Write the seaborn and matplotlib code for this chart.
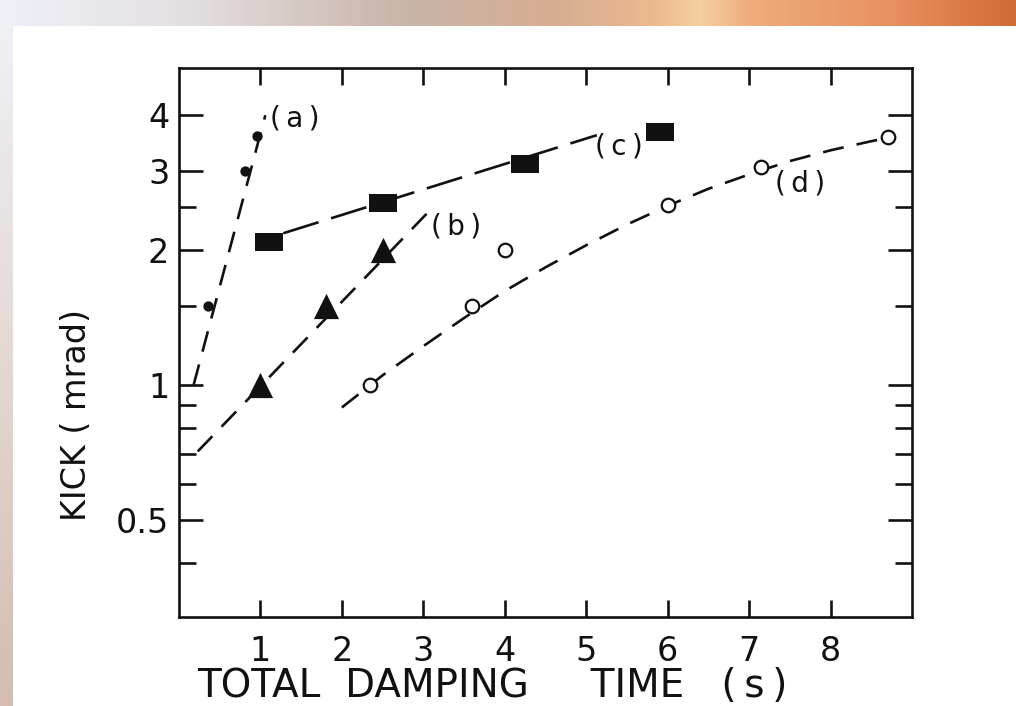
import numpy as np
import matplotlib
matplotlib.use("Agg")
import matplotlib.pyplot as plt
from matplotlib.colors import LinearSegmentedColormap
from matplotlib.ticker import FixedLocator, NullFormatter, FixedFormatter
import seaborn as sns

# Measured kicks for each damping configuration
a_time = [0.36, 0.81, 0.96]
a_kick = [1.5, 3.0, 3.6]
b_time = [1.0, 1.8, 2.5]
b_kick = [1.0, 1.5, 2.0]
c_time = [1.1, 2.5, 4.25, 5.9]
c_kick = [2.08, 2.55, 3.12, 3.67]
d_time = [2.35, 3.6, 4.0, 6.0, 7.15, 8.7]
d_kick = [1.0, 1.5, 2.0, 2.52, 3.07, 3.58]

# Dashed trend curves
a_fit_time = [0.18, 1.06]
a_fit_kick = [1.0, 4.0]
b_fit_time = [0.23, 3.05]
b_fit_kick = [0.71, 2.42]
c_fit_time = [1.28, 5.13]
c_fit_kick = [2.18, 3.61]
d_fit_time = [2.0, 2.5, 3.0, 3.5, 4.0, 4.5, 5.0, 5.5, 6.0, 6.5, 7.0, 7.5, 8.0, 8.5, 8.7]
d_fit_kick = [0.89, 1.05, 1.22, 1.41, 1.62, 1.83, 2.05, 2.28, 2.51, 2.74, 2.95, 3.16,
              3.34, 3.50, 3.56]

x_ticks = [1, 2, 3, 4, 5, 6, 7, 8]
y_major = [0.5, 1, 2, 3, 4]
y_major_labels = ["0.5", "1", "2", "3", "4"]
y_minor = [0.4, 0.6, 0.7, 0.8, 0.9, 1.5, 2.5]

sns.set_style("ticks")
plt.rcParams["font.family"] = ["DejaVu Sans"]

W, H = 1016, 706
fig = plt.figure(figsize=(W / 100, H / 100), dpi=100)
fig.patch.set_facecolor("white")

# Decorative slide border: gradient bar across the top and down the left side
top_cmap = LinearSegmentedColormap.from_list("top", [
    (0.0, "#eef0f8"), (0.18, "#e4e0e2"), (0.40, "#c9b4a8"), (0.55, "#d8ae92"),
    (0.64, "#ecb88e"), (0.69, "#f6cfa2"), (0.74, "#eeac7c"), (0.88, "#e8905e"),
    (1.0, "#d06c36")])
left_cmap = LinearSegmentedColormap.from_list("left", [
    (0.0, "#eef0f6"), (0.45, "#e6dad6"), (1.0, "#d4bcb0")])
bar_top = fig.add_axes([0, 1 - 26 / H, 1, 26 / H])
bar_top.imshow(np.linspace(0, 1, 256)[None, :], aspect="auto", cmap=top_cmap)
bar_top.axis("off")
bar_left = fig.add_axes([0, 0, 13 / W, 1 - 26 / H])
bar_left.imshow(np.linspace(0, 1, 256)[:, None], aspect="auto", cmap=left_cmap)
bar_left.axis("off")

ax = fig.add_axes([179 / W, 1 - 617 / H, (912 - 179) / W, (617 - 68) / H])
ax.set_facecolor("white")

ink = "#111111"
lw = 1.9

def trend(xs, ys, dashes):
    sns.lineplot(x=xs, y=ys, ax=ax, color=ink, linewidth=lw, sort=False,
                 estimator=None, dashes=False, legend=False).lines[-1].set_dashes(dashes)

trend(a_fit_time, a_fit_kick, (8, 5))
trend(b_fit_time, b_fit_kick, (8, 5))
trend(c_fit_time, c_fit_kick, (14, 5))
trend(d_fit_time, d_fit_kick, (8, 5))

rect = [(-1.4, -0.95), (1.4, -0.95), (1.4, 0.95), (-1.4, 0.95), (-1.4, -0.95)]
sns.scatterplot(x=a_time, y=a_kick, ax=ax, marker="o", s=55, color=ink,
                edgecolor=ink, linewidth=0, zorder=5, legend=False)
sns.scatterplot(x=b_time, y=b_kick, ax=ax, marker="^", s=330, color=ink,
                edgecolor=ink, linewidth=0, zorder=5, legend=False)
sns.scatterplot(x=c_time, y=c_kick, ax=ax, marker=rect, s=400, color=ink,
                edgecolor=ink, linewidth=0, zorder=5, legend=False)
sns.scatterplot(x=d_time, y=d_kick, ax=ax, marker="o", s=95, facecolor="white",
                edgecolor=ink, linewidth=1.6, zorder=5, legend=False)

ax.set_yscale("log")
ax.set_xlim(0, 9)
ax.set_ylim(0.303, 5.1)

ax.xaxis.set_major_locator(FixedLocator(x_ticks))
ax.yaxis.set_major_locator(FixedLocator(y_major))
ax.yaxis.set_major_formatter(FixedFormatter(y_major_labels))
ax.yaxis.set_minor_locator(FixedLocator(y_minor))
ax.yaxis.set_minor_formatter(NullFormatter())
ax.xaxis.set_minor_locator(FixedLocator([]))

ax.tick_params(axis="both", which="both", direction="in", top=True, right=True,
               color=ink, width=lw, labelcolor=ink)
ax.tick_params(axis="x", which="major", length=12, labelsize=24, pad=13)
ax.tick_params(axis="y", which="major", length=17, labelsize=24, pad=7)
ax.tick_params(axis="y", which="minor", length=12)
for s in ax.spines.values():
    s.set_color(ink)
    s.set_linewidth(lw)

ax.set_xlabel("TOTAL  DAMPING     TIME   (\u2009s\u2009)", fontsize=28, color=ink)
ax.set_ylabel("KICK ( mrad)", fontsize=24, color=ink)
ax.xaxis.set_label_coords(0.427, -0.091)
ax.yaxis.set_label_coords(-0.118, 0.368)

lab = dict(fontsize=20, color=ink, va="center", ha="left")
ax.text(1.12, 3.94, "(\u2009a\u2009)", **lab)
ax.text(3.1, 2.26, "(\u2009b\u2009)", **lab)
ax.text(5.11, 3.40, "(\u2009c\u2009)", **lab)
ax.text(7.32, 2.81, "(\u2009d\u2009)", **lab)

fig.savefig("out.png", dpi=100, facecolor=fig.get_facecolor())
